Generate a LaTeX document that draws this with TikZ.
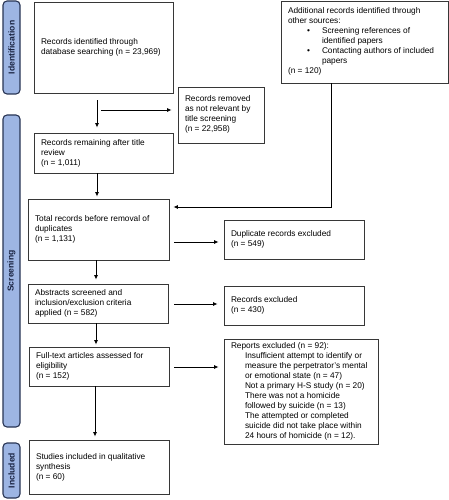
\documentclass[tikz,border=0pt]{standalone}
\usepackage{fontspec}
\setmainfont{Liberation Sans}
\usetikzlibrary{arrows.meta,calc}
\definecolor{phasefill}{RGB}{157,181,227}
\definecolor{phaseline}{RGB}{40,52,84}
\definecolor{phasetext}{RGB}{25,35,65}
\definecolor{boxline}{RGB}{55,55,55}
\newcommand{\boxtxt}[2]{\makebox[#1][l]{\begin{tabular}{@{}l@{}}#2\end{tabular}}}
\begin{document}
\begin{tikzpicture}[x=1pt,y=-1pt,
  box/.style={draw=boxline,line width=0.9pt,rectangle,inner xsep=7pt,inner ysep=2pt,
    font=\fontsize{8.3}{10}\selectfont,anchor=center},
  phase/.style={draw=phaseline,fill=phasefill,rounded corners=4pt,line width=1.1pt,minimum height=17pt,inner sep=0pt,font=\fontsize{8.6}{10}\selectfont\bfseries,text=phasetext,rotate=90},
  arr/.style={-{Latex[length=4.5pt,width=4pt]},line width=0.8pt,draw=black}]
\useasboundingbox (0,0) rectangle (449,500);

% phase bars
\node[phase,minimum width=93pt] (pI) at (11.5,47.5) {Identification};
\node[phase,minimum width=312pt] (pS) at (11.5,271) {Screening};
\node[phase,minimum width=55pt] (pN) at (11.5,470.5) {Included};

% boxes
\node[box,minimum width=139pt,minimum height=91pt] (b1) at (103.5,47.5)
  {\boxtxt{125pt}{Records identified through\\database searching (n = 23,969)}};
\node[box,minimum width=86pt,minimum height=56pt] (b2) at (221,115)
  {\boxtxt{72pt}{Records removed\\as not relevant by\\title screening\\(n = 22,958)}};
\node[box,minimum width=167pt,minimum height=82pt] (b3) at (364.5,42)
  {\boxtxt{153pt}{Additional records identified through\\other sources:\\
   \hspace*{19pt}\makebox[15pt][l]{•}Screening references of\\
   \hspace*{34pt}identified papers\\
   \hspace*{19pt}\makebox[15pt][l]{•}Contacting authors of included\\
   \hspace*{34pt}papers\\
   (n = 120)}};
\node[box,minimum width=139pt,minimum height=40pt] (b4) at (103.5,153)
  {\boxtxt{125pt}{Records remaining after title\\review\\(n = 1,011)}};
\node[box,minimum width=141pt,minimum height=61pt] (b5) at (98.5,229.5)
  {\boxtxt{127pt}{Total records before removal of\\duplicates\\(n = 1,131)}};
\node[box,minimum width=140pt,minimum height=39pt] (b6) at (294,239.5)
  {\boxtxt{126pt}{Duplicate records excluded\\(n = 549)}};
\node[box,minimum width=140pt,minimum height=39pt] (b7) at (98,303.5)
  {\boxtxt{126pt}{Abstracts screened and\\inclusion/exclusion criteria\\applied (n = 582)}};
\node[box,minimum width=140pt,minimum height=39pt] (b8) at (294,305.5)
  {\boxtxt{126pt}{Records excluded\\(n = 430)}};
\node[box,minimum width=140pt,minimum height=39pt] (b9) at (99,366.5)
  {\boxtxt{126pt}{Full-text articles assessed for\\eligibility\\(n = 152)}};
\node[box,minimum width=154pt,minimum height=105pt] (b10) at (301,391.5)
  {\boxtxt{140pt}{Reports excluded (n = 92):\\
   \hspace*{14pt}Insufficient attempt to identify or\\
   \hspace*{14pt}measure the perpetrator’s mental\\
   \hspace*{14pt}or emotional state (n = 47)\\
   \hspace*{14pt}Not a primary H-S study (n = 20)\\
   \hspace*{14pt}There was not a homicide\\
   \hspace*{14pt}followed by suicide (n = 13)\\
   \hspace*{14pt}The attempted or completed\\
   \hspace*{14pt}suicide did not take place within\\
   \hspace*{14pt}24 hours of homicide (n = 12).}};
\node[box,minimum width=140pt,minimum height=54pt] (b11) at (99,467)
  {\boxtxt{126pt}{Studies included in qualitative\\synthesis\\(n = 60)}};

% helper coordinates
\coordinate (cA) at (97,0);
\coordinate (cB) at (101,110);
\coordinate (cC) at (331,207);
\coordinate (cD) at (96,0);
\coordinate (cD2) at (95,0);
\coordinate (cE) at (0,242);
\coordinate (cF) at (0,304);
\coordinate (cG) at (0,367);

% connectors
\draw[arr,shorten <=7pt,shorten >=5pt] (b1.south -| cA) -- (b4.north -| cA);
\draw[arr,shorten >=6pt] (cB) -- (b2.west |- cB);
\draw[arr,shorten >=4pt] (b3.south -| cC) -- (cC) -- (b5.east |- cC);
\draw[arr,shorten >=2pt] (b4.south -| cA) -- (b5.north -| cA);
\draw[arr,shorten >=5pt,shorten <=5pt] (b5.east |- cE) -- (b6.west |- cE);
\draw[arr,shorten >=4pt] (b5.south -| cD) -- (b7.north -| cD);
\draw[arr,shorten >=6pt,shorten <=6pt] (b7.east |- cF) -- (b8.west |- cF);
\draw[arr,shorten >=2pt] (b7.south -| cD) -- (b9.north -| cD);
\draw[arr,shorten >=5pt,shorten <=5pt] (b9.east |- cG) -- (b10.west |- cG);
\draw[arr,shorten >=3pt] (b9.south -| cD2) -- (b11.north -| cD2);
\end{tikzpicture}
\end{document}
